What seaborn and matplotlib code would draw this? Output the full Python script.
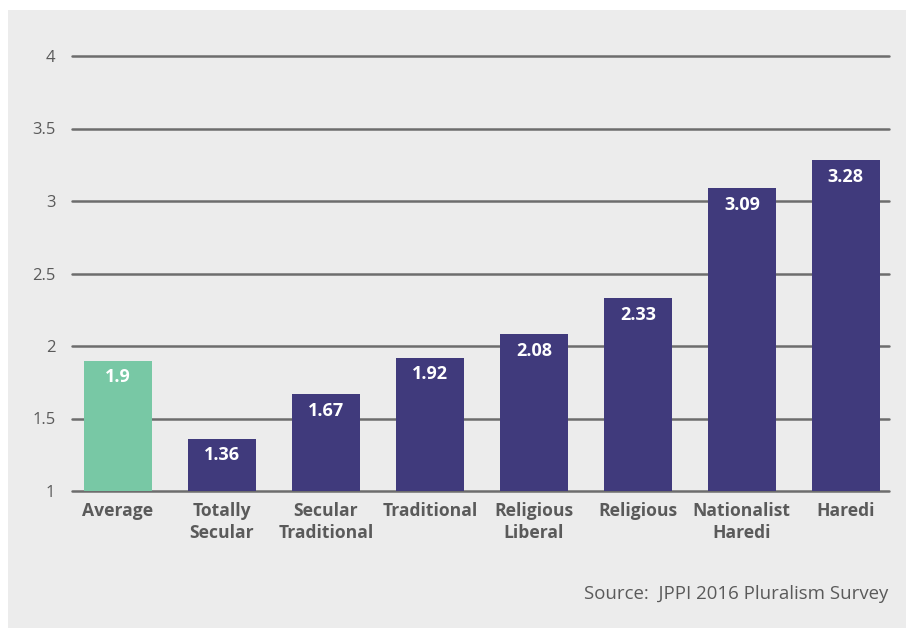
import matplotlib
matplotlib.use("Agg")
import matplotlib.pyplot as plt
import seaborn as sns
import pandas as pd

categories = ["Average", "Totally\nSecular", "Secular\nTraditional", "Traditional",
              "Religious\nLiberal", "Religious", "Nationalist\nHaredi", "Haredi"]
values = [1.9, 1.36, 1.67, 1.92, 2.08, 2.33, 3.09, 3.28]
value_labels = ["1.9", "1.36", "1.67", "1.92", "2.08", "2.33", "3.09", "3.28"]
yticks = [1, 1.5, 2, 2.5, 3, 3.5, 4]
ytick_labels = ["1", "1.5", "2", "2.5", "3", "3.5", "4"]
source = "Source:  JPPI 2016 Pluralism Survey"

sns.set_theme(style="white")
plt.rcParams["font.family"] = ["Open Sans", "DejaVu Sans"]

BG = "#ececec"
GREEN = "#78c8a5"
PURPLE = "#403a7c"
GRID = "#6d6d6d"
TXT = "#5a5a5a"

W, H = 906, 628
fig = plt.figure(figsize=(W / 100, H / 100), dpi=100, facecolor="white")
# gray panel
fig.patches.append(plt.Rectangle((8 / W, 0), 1 - 8 / W, 1 - 10 / H,
                                 transform=fig.transFigure, facecolor=BG,
                                 edgecolor="none", zorder=-10))

ax = fig.add_axes([72 / W, 1 - 491 / H, (889 - 72) / W, (491 - 56) / H])
ax.set_facecolor("none")

df = pd.DataFrame({"cat": categories, "val": values})
palette = [GREEN] + [PURPLE] * (len(categories) - 1)
sns.barplot(data=df, x="cat", y="val", hue="cat", palette=palette, legend=False,
            width=0.655, ax=ax, zorder=3, saturation=1, linewidth=0,
            edgecolor="none")

ax.set_ylim(1, 4)
ax.set_xlim(-0.44, len(categories) - 1 + 0.415)
for t in yticks:
    ax.axhline(t, color=GRID, lw=1.8, zorder=1, clip_on=False)

for s in ax.spines.values():
    s.set_visible(False)

ax.set_yticks(yticks)
ax.set_yticklabels(ytick_labels, fontsize=12, color=TXT)
ax.tick_params(axis="y", length=0, pad=12)
ax.tick_params(axis="x", length=0, pad=8)
ax.set_xticks(range(len(categories)))
ax.set_xticklabels(categories, fontsize=12.6, fontweight="bold", color=TXT,
                   linespacing=1.25)
ax.set_xlabel("")
ax.set_ylabel("")

for i, (v, lab) in enumerate(zip(values, value_labels)):
    ax.annotate(lab, (i, v), xytext=(0, -12), textcoords="offset points",
                ha="center", va="center", color="white", fontsize=13,
                fontweight="bold", zorder=5)

fig.text(888 / W, 1 - 594 / H, source, ha="right", va="center",
         fontsize=13.4, color=TXT)

fig.savefig("out.png", dpi=100, facecolor="white")
